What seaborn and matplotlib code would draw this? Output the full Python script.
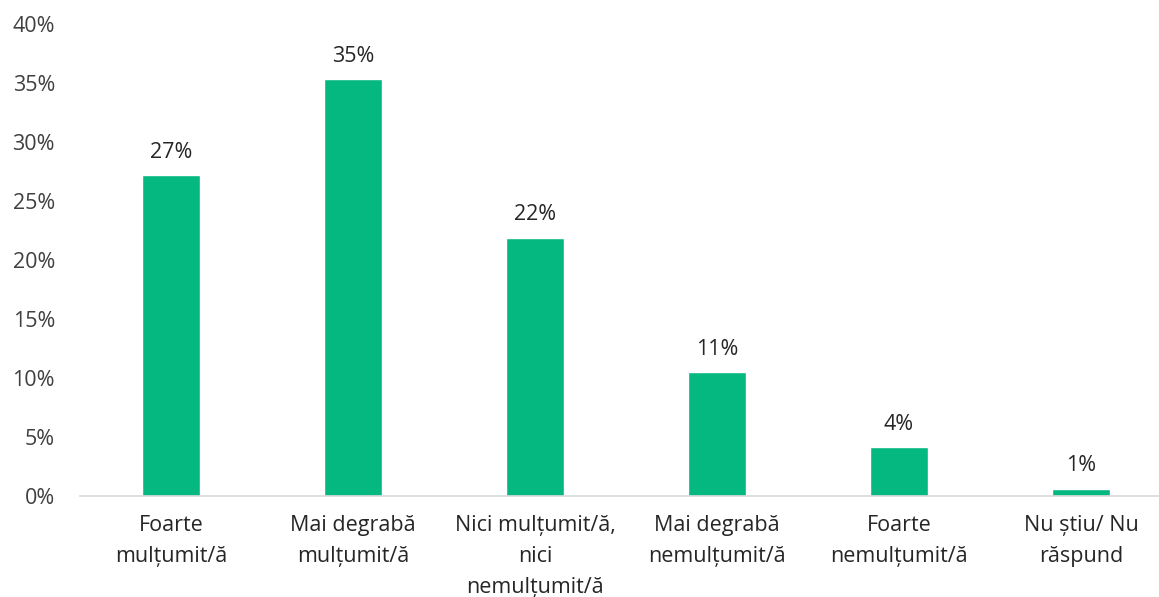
import matplotlib
matplotlib.use("Agg")
import matplotlib.pyplot as plt
import seaborn as sns
import pandas as pd

categories = ["Foarte\nmulțumit/ă", "Mai degrabă\nmulțumit/ă", "Nici mulțumit/ă,\nnici\nnemulțumit/ă",
              "Mai degrabă\nnemulțumit/ă", "Foarte\nnemulțumit/ă", "Nu știu/ Nu\nrăspund"]
values = [27.2, 35.3, 21.9, 10.5, 4.15, 0.6]
labels = ["27%", "35%", "22%", "11%", "4%", "1%"]

df = pd.DataFrame({"cat": categories, "val": values})

sns.set_theme(style="white")
plt.rcParams["font.family"] = ["Open Sans", "DejaVu Sans"]

fig = plt.figure(figsize=(11.59, 5.97), dpi=100)
ax = fig.add_axes([80/1159, 101/597, 1092/1159, 472/597])

sns.barplot(data=df, x="cat", y="val", color="#05B880", width=0.315, saturation=1, ax=ax)

for i, (v, t) in enumerate(zip(values, labels)):
    ax.annotate(t, (i, v), xytext=(0, 9), textcoords="offset points",
                ha="center", va="bottom", fontsize=15.5, color="#262626")

ax.set_ylim(0, 40)
ax.set_yticks(range(0, 41, 5))
ax.set_yticklabels([f"{y}%" for y in range(0, 41, 5)])
ax.set_xlabel("")
ax.set_ylabel("")
ax.tick_params(axis="both", length=0, labelsize=15.5, labelcolor="#404040")
ax.tick_params(axis="x", pad=14)
ax.tick_params(axis="y", pad=18)
for lab in ax.get_xticklabels():
    lab.set_linespacing(1.62)
    lab.set_color("#262626")
for s in ["top", "right", "left"]:
    ax.spines[s].set_visible(False)
ax.spines["bottom"].set_color("#d9d9d9")
ax.spines["bottom"].set_linewidth(1.2)

fig.savefig("out.png", dpi=100)
